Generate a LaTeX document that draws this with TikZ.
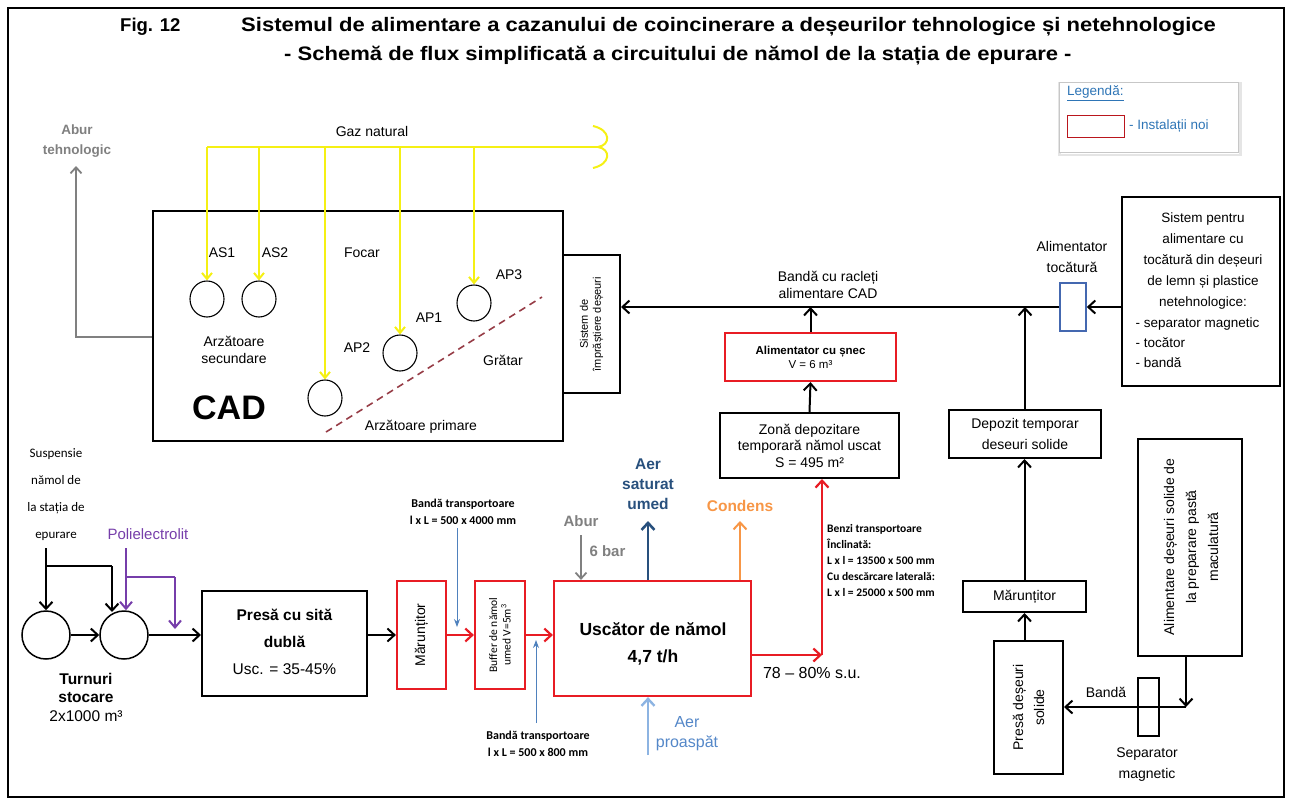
\documentclass[tikz,border=0pt]{standalone}
\usepackage{fontspec}
\setmainfont{Liberation Sans}
\newfontfamily\calib{Carlito}
\usetikzlibrary{arrows.meta,shapes.geometric,calc}

\definecolor{myred}{RGB}{232,28,36}
\definecolor{gasyellow}{RGB}{245,240,20}
\definecolor{purp}{RGB}{118,62,170}
\definecolor{darkblue}{RGB}{40,80,125}
\definecolor{condorange}{RGB}{247,150,70}
\definecolor{abgray}{RGB}{128,128,128}
\definecolor{airblue}{RGB}{141,180,226}
\definecolor{airtext}{RGB}{84,135,200}
\definecolor{thinblue}{RGB}{79,129,189}
\definecolor{legblue}{RGB}{46,117,182}
\definecolor{boxblue}{RGB}{68,104,176}
\definecolor{gratecol}{RGB}{150,60,70}

\newcommand\fs[2]{\fontsize{#1}{#2}\selectfont}

\tikzset{
  box/.style={draw, line width=2pt, inner sep=0pt},
  redbox/.style={draw=myred, line width=2.2pt, inner sep=0pt},
  burner/.style={draw, ellipse, line width=1.1pt, minimum width=34pt, minimum height=36pt, inner sep=0pt},
  tank/.style={draw, circle, line width=1.5pt, minimum size=48pt, inner sep=0pt},
  arr/.style={line width=2pt, -{Straight Barb[length=7pt,width=13pt]}},
  redarr/.style={draw=myred, line width=2.2pt, -{Straight Barb[length=7pt,width=13pt]}},
  gasline/.style={draw=gasyellow, line width=2pt},
  gasarr/.style={draw=gasyellow, line width=2pt, -{Straight Barb[length=6pt,width=10pt]}},
  purparr/.style={draw=purp, line width=2pt, -{Straight Barb[length=7pt,width=12pt]}},
  grayarr/.style={draw=abgray, line width=1.8pt, -{Straight Barb[length=6pt,width=11pt]}},
  thinarr/.style={draw=thinblue, line width=1pt, -{Stealth[length=8pt,width=6pt]}},
  lbl/.style={font=\fs{14}{16}, inner sep=1pt},
  smalllbl/.style={font=\calib\bfseries\fs{12}{17}, inner sep=1pt},
  titlef/.style={font=\bfseries\fs{19.5}{22}, inner sep=0pt, xscale=1.13},
}

\begin{document}
\begin{tikzpicture}[x=1pt,y=-1pt]
\useasboundingbox (0,0) rectangle (1289,801);

% outer frame
\node[draw, line width=2pt, minimum width=1276pt, minimum height=789pt, inner sep=0pt] (frame) at (645.5,402.5) {};

% title
\node[font=\bfseries\fs{18.5}{21}, inner sep=0pt, anchor=west] (fig) at (120,27) {Fig. 12};
\node[titlef, anchor=west] (title1) at (241,27) {Sistemul de alimentare a cazanului de coincinerare a deșeurilor tehnologice și netehnologice};
\node[titlef, anchor=west] (title2) at (284,56) {- Schemă de flux simplificată a circuitului de nămol de la stația de epurare -};

% legend
\node[draw=black!10, line width=2.5pt, minimum width=181pt, minimum height=72pt, inner sep=0pt] (legshadow) at (1150,119) {};
\node[draw=black!22, fill=white, line width=0.8pt, minimum width=179pt, minimum height=70pt, inner sep=0pt] (legend) at (1148.5,117) {};
\node[lbl, anchor=west, text=legblue, font=\fs{13.5}{16}] (legtitle) at (1066,93) {\underline{Legendă:}};
\node[draw=myred!80!black, line width=1pt, minimum width=57pt, minimum height=22pt, inner sep=0pt] (legbox) at (1096,126) {};
\node[lbl, anchor=west, text=legblue, font=\fs{13.5}{16}] (legtext) at (1128,126) {- Instalații noi};

% CAD boiler
\node[box, minimum width=410pt, minimum height=230pt] (cad) at (358,326) {};
\node[box, minimum width=57pt, minimum height=138pt] (imp) at (591.5,324) {};
\node[rotate=90, align=center, font=\fs{11}{13}] (imptext) at (imp) {Sistem de\\împrăștiere deșeuri};

% burners
\node[burner] (as1) at (207,299) {};
\node[burner] (as2) at (259,299) {};
\node[burner] (ap2) at (325,398) {};
\node[burner] (ap1) at (400,353) {};
\node[burner] (ap3) at (474,303) {};

\node[lbl] (las1) at (222,253) {AS1};
\node[lbl] (las2) at (275,253) {AS2};
\node[lbl] (lfocar) at (362,253) {Focar};
\node[lbl] (lap3) at (509,275) {AP3};
\node[lbl] (lap1) at (429,318) {AP1};
\node[lbl] (lap2) at (357,348) {AP2};
\node[lbl] (lgratar) at (503,360) {Grătar};
\node[lbl, align=center, font=\fs{14}{17.5}] (lsec) at (234,350) {Arzătoare\\secundare};
\node[lbl] (lprim) at (421,427) {Arzătoare primare};
\node[font=\bfseries\fs{34}{36}, inner sep=0pt] (lcad) at (229,408) {CAD};

% grate
\coordinate (grA) at (326,432);
\coordinate (grB) at (542,297);
\draw[draw=gratecol, line width=1.6pt, dash pattern=on 7pt off 5pt] (grA) -- (grB);

% natural gas header
\coordinate (g0) at (207,147);
\coordinate (gend) at (598,147);
\draw[gasline] (g0) -- (gend);
\draw[gasline] (593,126) .. controls (611,130) and (611,145) .. (gend) .. controls (611,149) and (611,164) .. (593,168);
\node[lbl] (gaz) at (372,131) {Gaz natural};
\draw[gasarr] (as1.north |- g0) -- (as1.north);
\draw[gasarr] (as2.north |- g0) -- (as2.north);
\draw[gasarr] (ap2.north |- g0) -- (ap2.north);
\draw[gasarr] (ap1.north |- g0) -- (ap1.north);
\draw[gasarr] (ap3.north |- g0) -- (ap3.north);

% process steam
\node[align=center, text=abgray, font=\bfseries\fs{13.5}{20}] (aburteh) at (77,141) {Abur\\tehnologic};
\coordinate (aburbend) at (76,337);
\coordinate (aburtip) at (76,166);
\draw[grayarr] (cad.west |- aburbend) -- (aburbend) -- (aburtip);

% solid fuel feed line
\node[draw=boxblue, line width=1.6pt, minimum width=26pt, minimum height=48pt, inner sep=0pt] (blue) at (1073,307) {};
\node[lbl, align=center, font=\fs{14}{21}] (altoc) at (1072,257) {Alimentator\\tocătură};
\draw[arr] (blue.west) -- (imp.east |- blue.west);
\node[lbl, align=center, font=\fs{14}{16.5}] (banda) at (828,285) {Bandă cu racleți\\alimentare CAD};

\node[box, minimum width=158pt, minimum height=189pt] (sistem) at (1201,291.5) {};
\node[align=center, font=\fs{13.5}{21}] (sistxt) at (1203,261) {Sistem pentru\\alimentare cu\\tocătură din deșeuri\\de lemn și plastice\\netehnologice:};
\node[align=left, anchor=west, font=\fs{13.5}{20}] (sisbul) at (1132,343) {- separator magnetic\\- tocător\\- bandă};
\draw[arr] (sistem.west |- blue.east) -- (blue.east);

% dried sludge storage and screw feeder
\node[redbox, minimum width=171pt, minimum height=48pt] (snec) at (810.5,357) {};
\node[align=center, font=\fs{11.5}{14}] (snectxt) at (snec) {\textbf{Alimentator cu șnec}\\V = 6 m³};
\node[box, minimum width=179pt, minimum height=65pt] (zona) at (809.5,445.5) {};
\node[align=center, font=\fs{14}{16.5}] (zonatxt) at (zona) {Zonă depozitare\\temporară nămol uscat\\S = 495 m²};
\draw[arr] (zona.north) -- (snec.south);
\draw[arr] (snec.north) -- (snec.north |- blue.west);

% solid waste branch
\node[box, minimum width=152pt, minimum height=48pt] (depozit) at (1025,434) {};
\node[align=center, font=\fs{14}{21}] (depotxt) at (depozit) {Depozit temporar\\deseuri solide};
\draw[arr] (depozit.north) -- (depozit.north |- blue.west);

\node[box, minimum width=123pt, minimum height=31pt] (marunt2) at (1024.5,596.5) {};
\node[font=\fs{14}{16}] (marunt2txt) at (marunt2) {Mărunțitor};
\draw[arr] (marunt2.north) -- (marunt2.north |- depozit.south);

\node[box, minimum width=69pt, minimum height=133pt] (presad) at (1028.5,707.5) {};
\node[rotate=90, align=center, font=\fs{14}{21}] (presadtxt) at (presad) {Presă deșeuri\\solide};
\draw[arr] (marunt2.south |- presad.north) -- (marunt2.south);

\node[box, minimum width=104pt, minimum height=217pt] (alim) at (1190,547.5) {};
\node[rotate=90, align=center, font=\fs{14}{22}] (alimtxt) at (1191,547) {Alimentare deșeuri solide de\\la preparare pastă\\maculatură};

\node[draw, line width=1.6pt, minimum width=21pt, minimum height=58pt, inner sep=0pt] (sep) at (1148.5,707) {};
\node[align=center, font=\fs{14}{21}] (septxt) at (1147,765) {Separator\\magnetic};
\coordinate (sepcorner) at (1186,707);
\draw[arr] (sepcorner |- alim.south) -- (sepcorner);
\draw[arr] (sepcorner) -- (presad.east |- sepcorner);
\node[font=\fs{14}{16}] (bandatxt) at (1106,692) {Bandă};

% sludge line: storage towers
\node[tank] (t1) at (46,635) {};
\node[tank] (t2) at (124,635) {};
\draw[arr] (t1.east) -- (t2.west);
\node[align=center, font=\calib\fs{13}{27}] (susp) at (56,495) {Suspensie\\nămol de\\la stația de\\epurare};
\coordinate (s0) at (46,548);
\coordinate (sbr) at (46,566);
\coordinate (t2in) at (112,612);
\draw[arr] (s0) -- (t1.north);
\draw[line width=2pt] (sbr) -| (t2in |- sbr);
\draw[arr] (t2in |- sbr) -- (t2in);
\node[text=purp, font=\fs{15}{17}] (poli) at (148,534) {Polielectrolit};
\coordinate (p0) at (126,548);
\coordinate (pbr) at (126,577);
\coordinate (pin) at (175,629);
\draw[purparr] (p0) -- (p0 |- t2.north);
\draw[draw=purp, line width=2pt] (pbr) -- (pin |- pbr);
\draw[purparr] (pin |- pbr) -- (pin);
\node[align=center, font=\fs{15.5}{18.5}] (turnuri) at (86,697) {\textbf{Turnuri}\\\textbf{stocare}\\2x1000 m³};

% press
\node[box, minimum width=165pt, minimum height=105pt] (presa) at (284.5,643.5) {};
\node[align=center, font=\fs{15.5}{27}] (presatxt) at (284.5,642) {\textbf{Presă cu sită}\\\textbf{dublă}\\Usc. = 35-45\%};
\draw[arr] (t2.east) -- (presa.west |- t2.east);

% shredder, buffer, dryer
\node[redbox, minimum width=49pt, minimum height=108pt] (marunt1) at (421.5,635) {};
\node[rotate=90, font=\fs{14}{16}] (marunt1txt) at (marunt1) {Mărunțitor};
\draw[arr] (presa.east |- marunt1.west) -- (marunt1.west);

\node[redbox, minimum width=50pt, minimum height=108pt] (buffer) at (500,635) {};
\node[rotate=90, align=center, font=\calib\fs{11.5}{13.5}] (buffertxt) at (buffer) {Buffer de nămol\\umed V=5m\textsuperscript{3}};
\draw[redarr] (marunt1.east) -- (buffer.west);

\node[redbox, minimum width=197pt, minimum height=115pt] (uscator) at (652.5,638.5) {};
\node[align=center, font=\bfseries\fs{17.5}{27}] (uscatortxt) at (653,644) {Uscător de nămol\\4,7 t/h};
\draw[redarr] (buffer.east) -- (uscator.west |- buffer.east);

% conveyor notes
\node[smalllbl, align=center] (bt1) at (463,512) {Bandă transportoare\\l x L = 500 x 4000 mm};
\coordinate (bt1a) at (457,528);
\coordinate (bt1b) at (457,627);
\draw[thinarr] (bt1a) -- (bt1b);
\node[smalllbl, align=center] (bt2) at (538,744) {Bandă transportoare\\l x L = 500 x 800 mm};
\coordinate (bt2a) at (536,723);
\coordinate (bt2b) at (536,640);
\draw[thinarr] (bt2a) -- (bt2b);

% dryer utilities
\node[text=abgray, font=\bfseries\fs{15}{17}] (abur) at (581,521) {Abur};
\node[text=abgray, font=\bfseries\fs{15}{17}, anchor=west] (sixbar) at (586,551) {6 bar};
\coordinate (aburin) at (581,535);
\draw[grayarr] (aburin) -- (aburin |- uscator.north);

\node[align=center, text=darkblue, font=\bfseries\fs{15.5}{20}] (aersat) at (648,484) {Aer\\saturat\\umed};
\coordinate (aersattip) at (648,521);
\draw[draw=darkblue, line width=2.6pt, -{Straight Barb[length=7pt,width=13pt]}] (aersattip |- uscator.north) -- (aersattip);

\node[text=condorange, font=\bfseries\fs{15.5}{17}] (condens) at (740,506) {Condens};
\coordinate (condtip) at (740,521);
\draw[draw=condorange, line width=2pt, -{Straight Barb[length=7pt,width=13pt]}] (condtip |- uscator.north) -- (condtip);

\node[align=center, text=airtext, font=\fs{16}{20}] (aerpro) at (687,734) {Aer\\proaspăt};
\coordinate (aerproin) at (648,755);
\draw[draw=airblue, line width=2.4pt, -{Straight Barb[length=7pt,width=13pt]}] (aerproin) -- (aerproin |- uscator.south);

% dried sludge conveyors
\coordinate (uc) at (822,655);
\draw[redarr] (uscator.east |- uc) -- (uc);
\draw[redarr] (uc) -- (uc |- zona.south);
\node[font=\fs{16}{18}] (su) at (812,673) {78 – 80\% s.u.};
\node[smalllbl, align=left, anchor=north west, font=\calib\bfseries\fs{11.5}{16}] (benzi) at (826,523) {Benzi transportoare\\Înclinată:\\ L x l = 13500 x 500 mm\\Cu descărcare laterală:\\ L x l = 25000 x 500 mm};

\end{tikzpicture}
\end{document}
